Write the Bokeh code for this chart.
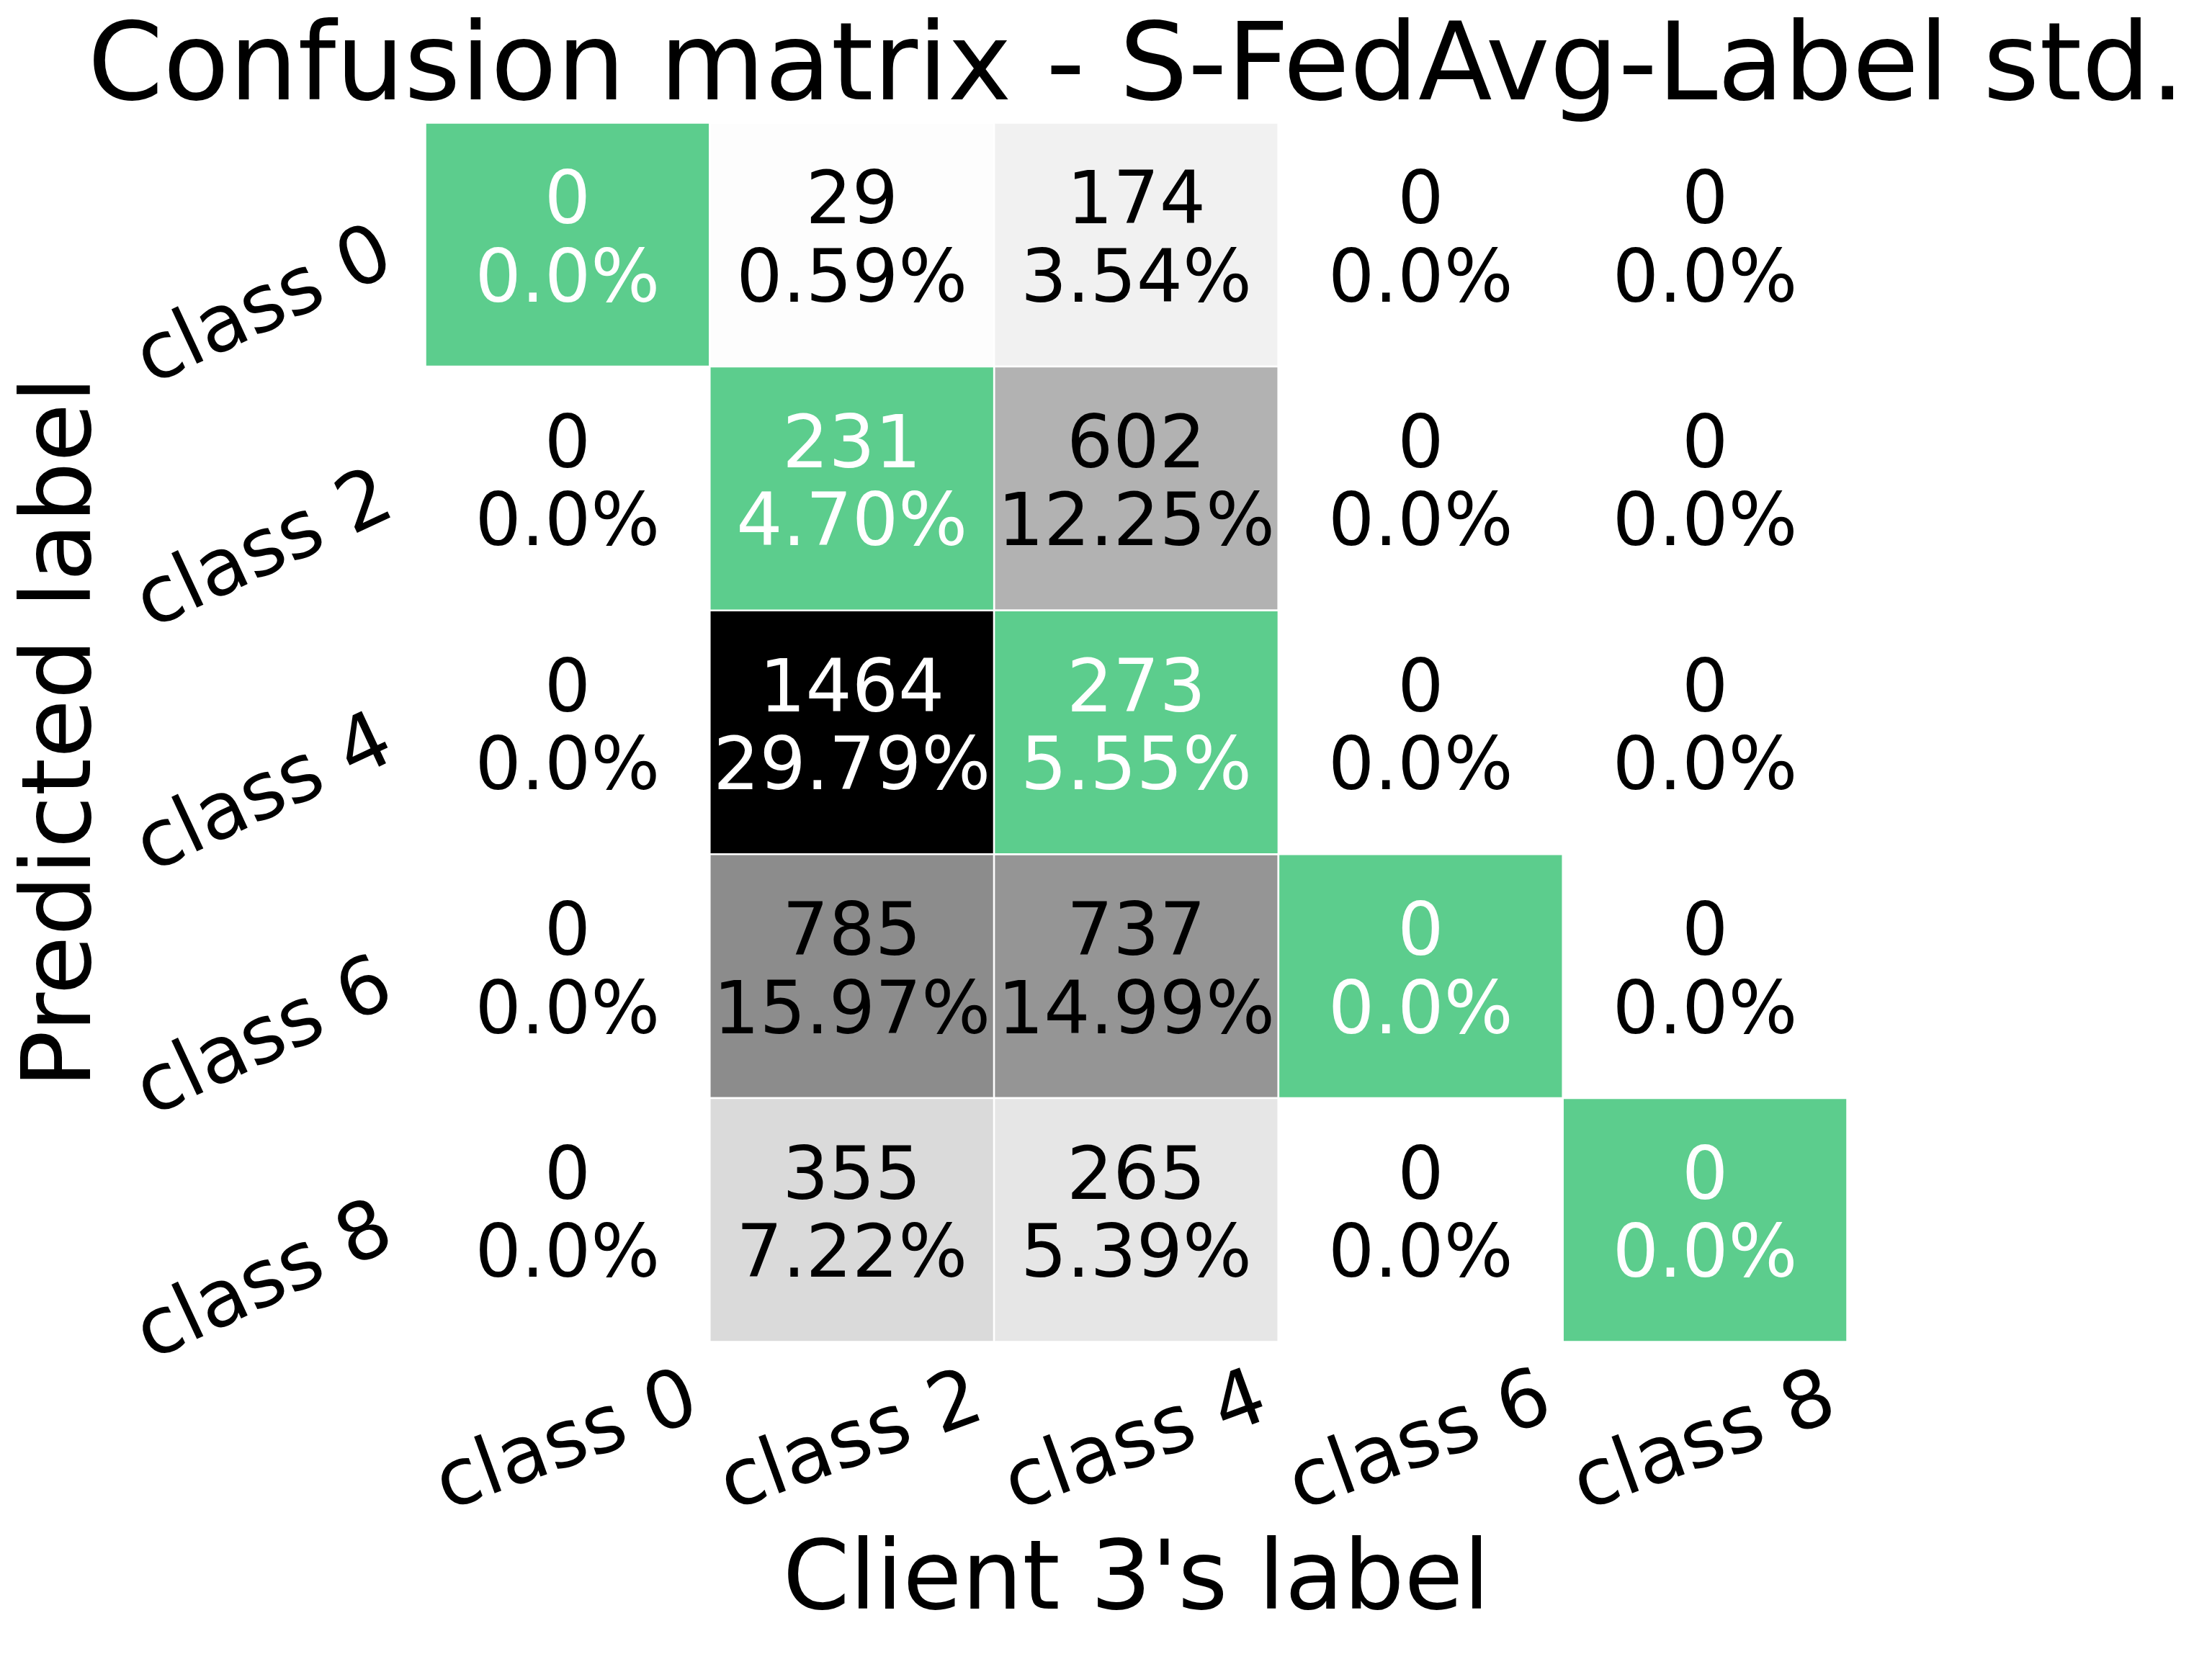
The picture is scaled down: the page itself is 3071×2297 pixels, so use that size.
import math
from bokeh.plotting import figure
from bokeh.models import ColumnDataSource, Range1d, Label, LabelSet, LinearColorMapper
from bokeh.transform import transform
from bokeh.core.properties import value
from bokeh.embed import file_html
from bokeh.resources import INLINE
from bokeh.palettes import Greys9

# ---------------- data ----------------
title_text = "Confusion matrix - S-FedAvg-Label std."
x_title = "Client 3's label"
y_title = "Predicted label"
true_labels = ["class 0", "class 2", "class 4", "class 6", "class 8"]   # columns
pred_labels = ["class 0", "class 2", "class 4", "class 6", "class 8"]   # rows (top -> bottom)
row_class0 = [0, 29, 174, 0, 0]
row_class2 = [0, 231, 602, 0, 0]
row_class4 = [0, 1464, 273, 0, 0]
row_class6 = [0, 785, 737, 0, 0]
row_class8 = [0, 355, 265, 0, 0]
rows = [row_class0, row_class2, row_class4, row_class6, row_class8]

FONT_NAME = "DejaVu Sans"
FONT = value(FONT_NAME)
GREEN = "#5ccd8d"

total = sum(sum(r) for r in rows)
vmax = max(max(r) for r in rows)

def pct(v):
    if v == 0:
        return "0.0%"
    return "{:.2f}%".format(100.0 * v / total)

# grey colour map (white -> black), like matplotlib "Greys"
stops = list(reversed(Greys9))
def grey(frac):
    pos = frac * (len(stops) - 1)
    k = min(int(pos), len(stops) - 2)
    t = pos - k
    c0 = int(stops[k][1:3], 16)
    c1 = int(stops[k + 1][1:3], 16)
    v = int(round(c0 + (c1 - c0) * t))
    return "#%02x%02x%02x" % (v, v, v)
palette = [grey(k / 255) for k in range(256)]
mapper = LinearColorMapper(palette=palette, low=0, high=vmax)

n = len(true_labels)
off = dict(x=[], y=[], v=[])
diag = dict(x=[], y=[])
cell_text = []   # (x, y, line1, line2, colour)
for i, r in enumerate(rows):
    for j, v in enumerate(r):
        cx = j + 0.5
        cy = n - i - 0.5
        if i == j:
            diag["x"].append(cx); diag["y"].append(cy)
            col = "white"
        else:
            off["x"].append(cx); off["y"].append(cy); off["v"].append(v)
            col = "white" if v / vmax > 0.75 else "black"
        cell_text.append((cx, cy, str(v), pct(v), col))

# ---------------- layout (pixels) ----------------
W, H = 3063, 2289
GL, GR, GT, GB = 590, 2564, 170, 1863      # heat-map grid box on the canvas
ux = (GR - GL) / n
uy = (GB - GT) / n
x_range = Range1d(-GL / ux, n + (W - GR) / ux)
y_range = Range1d(-(H - GB) / uy, n + GT / uy)

p = figure(width=W, height=H, x_range=x_range, y_range=y_range,
           output_backend="svg", toolbar_location=None,
           x_axis_location=None, y_axis_location=None,
           min_border_left=0, min_border_right=0,
           min_border_top=0, min_border_bottom=0)
p.title.visible = False
p.grid.visible = False
p.outline_line_color = None
p.background_fill_color = "white"
p.border_fill_color = "white"

p.rect(x="x", y="y", width=1, height=1, source=ColumnDataSource(off),
       fill_color=transform("v", mapper), line_color="white", line_width=2.5)
p.rect(x="x", y="y", width=1, height=1, source=ColumnDataSource(diag),
       fill_color=GREEN, line_color="white", line_width=2.5)

for cx, cy, t1, t2, col in cell_text:
    p.add_layout(Label(x=cx, y=cy, y_offset=67, text=t1, text_align="center",
                       text_baseline="alphabetic", text_font=FONT_NAME,
                       text_font_size="101px", text_color=col))
    p.add_layout(Label(x=cx, y=cy, y_offset=-44, text=t2, text_align="center",
                       text_baseline="alphabetic", text_font=FONT_NAME,
                       text_font_size="101px", text_color=col))

# tick labels
xt = ColumnDataSource(dict(x=[j + 0.5 for j in range(n)], y=[0] * n, t=true_labels))
p.add_layout(LabelSet(x="x", y="y", text="t", source=xt, angle=math.radians(20),
                      x_offset=-3, y_offset=-134, text_align="center",
                      text_baseline="middle", text_font=FONT,
                      text_font_size="110px", text_color="black"))
yt = ColumnDataSource(dict(x=[0] * n, y=[n - i - 0.5 for i in range(n)], t=pred_labels))
p.add_layout(LabelSet(x="x", y="y", text="t", source=yt, angle=math.radians(25),
                      x_offset=-226, y_offset=-81, text_align="center",
                      text_baseline="middle", text_font=FONT,
                      text_font_size="110px", text_color="black"))

# title and axis titles
p.add_layout(Label(x=n / 2, y=n, y_offset=85, text=title_text, text_align="center",
                   text_baseline="alphabetic", text_font=FONT_NAME, text_font_size="150px",
                   text_color="black"))
p.add_layout(Label(x=n / 2, y=0, y_offset=-324, text=x_title, text_align="center",
                   text_baseline="alphabetic", text_font=FONT_NAME, text_font_size="133px",
                   text_color="black"))
p.add_layout(Label(x=0, y=n / 2, x_offset=-512, angle=math.pi / 2, text=y_title,
                   text_align="center", text_baseline="alphabetic", text_font=FONT_NAME,
                   text_font_size="133px", text_color="black"))

open("out.html", "w").write(file_html(p, INLINE))
